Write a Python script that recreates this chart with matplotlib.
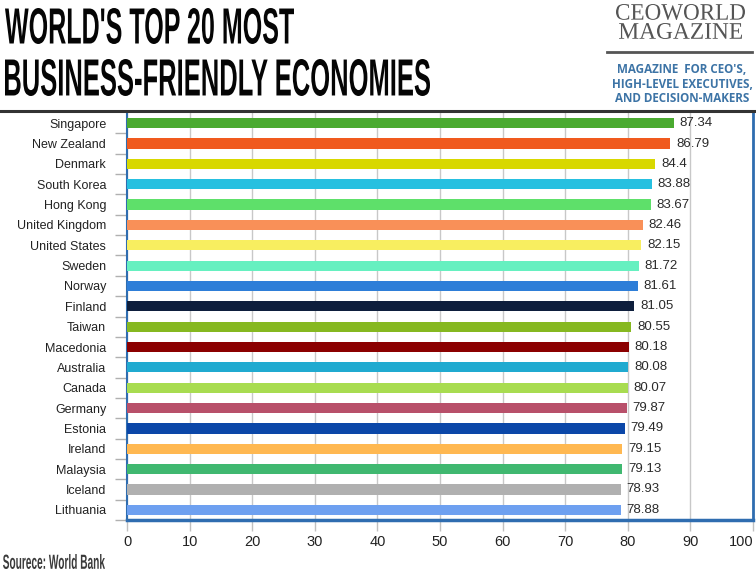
import numpy as np
import matplotlib
matplotlib.use('Agg')
import matplotlib.pyplot as plt
from matplotlib.textpath import TextPath
from matplotlib.patches import PathPatch
from matplotlib.font_manager import FontProperties
from matplotlib.transforms import Affine2D
from matplotlib.lines import Line2D

countries = ['Singapore', 'New Zealand', 'Denmark', 'South Korea', 'Hong Kong',
             'United Kingdom', 'United States', 'Sweden', 'Norway', 'Finland',
             'Taiwan', 'Macedonia', 'Australia', 'Canada', 'Germany',
             'Estonia', 'Ireland', 'Malaysia', 'Iceland', 'Lithuania']
scores = [87.34, 86.79, 84.4, 83.88, 83.67, 82.46, 82.15, 81.72, 81.61, 81.05,
          80.55, 80.18, 80.08, 80.07, 79.87, 79.49, 79.15, 79.13, 78.93, 78.88]
score_labels = ['87.34', '86.79', '84.4', '83.88', '83.67', '82.46', '82.15',
                '81.72', '81.61', '81.05', '80.55', '80.18', '80.08', '80.07',
                '79.87', '79.49', '79.15', '79.13', '78.93', '78.88']
bar_colors = ['#4aaa30', '#f05a1e', '#d8d800', '#26c0e0', '#5ee06a',
              '#f99058', '#f8ee60', '#66f0c0', '#2e7ed8', '#0e1e3c',
              '#86b820', '#8b0000', '#20aad0', '#a8dc50', '#b8506a',
              '#0b47a8', '#ffb851', '#40b870', '#b0b0b0', '#6ea0f0']
x_ticks = [0, 10, 20, 30, 40, 50, 60, 70, 80, 90, 100]

SANS = ['Liberation Sans', 'Arial', 'DejaVu Sans']
NARROW = ['Liberation Sans Narrow', 'Liberation Sans', 'DejaVu Sans']
SERIF = ['Liberation Serif', 'DejaVu Serif']

W, H = 756, 570
fig = plt.figure(figsize=(W / 100, H / 100), dpi=100)
ax = fig.add_axes([127 / W, 1 - 520 / H, 626 / W, 407 / H])

y = np.arange(len(countries))
ax.barh(y, scores, height=0.5, color=bar_colors, zorder=3)
for yi, v, lab in zip(y, scores, score_labels):
    ax.text(v + 0.9, yi, lab, va='center', ha='left', fontsize=9.5,
            color='#2a2a2a', family=SANS, zorder=4)

ax.set_xlim(0, 100)
ax.set_ylim(len(countries) - 0.5, -0.5)
ax.set_yticks(y)
ax.set_yticklabels(countries, fontsize=9, color='#222222', family=SANS)
ax.tick_params(axis='y', which='major', length=0, pad=15)
ax.set_yticks(np.arange(0.5, len(countries), 1), minor=True)
ax.tick_params(axis='y', which='minor', length=9, color='#b0b0b0', width=1)
ax.set_xticks(x_ticks)
xl = ax.set_xticklabels([str(t) for t in x_ticks], fontsize=10.5, color='#222222',
                        family=NARROW)
xl[-1].set_horizontalalignment('right')
ax.tick_params(axis='x', length=8, color='#c0c0c0', width=1, pad=3)
ax.grid(axis='x', color='#c8c8c8', linewidth=1, zorder=0)

for s in ['left', 'bottom', 'right']:
    ax.spines[s].set_color('#2f6db0')
ax.spines['left'].set_linewidth(1.5)
ax.spines['bottom'].set_linewidth(2.5)
ax.spines['right'].set_linewidth(2)
ax.spines['top'].set_visible(False)


def squeezed_text(s, x0, y_top, x1, y_bot, color, weight='bold', family=NARROW):
    # fit a text path into a pixel box (image coords, y down)
    fp = FontProperties(family=family, weight=weight)
    tp = TextPath((0, 0), s, size=50, prop=fp)
    ext = tp.get_extents()
    sx = (x1 - x0) / ext.width / W
    sy = (y_bot - y_top) / ext.height / H
    tr = Affine2D().translate(-ext.x0, -ext.y0).scale(sx, sy).translate(x0 / W, 1 - y_bot / H)
    fig.patches.append(PathPatch(tp, transform=tr + fig.transFigure, color=color, lw=0))


squeezed_text("WORLD'S TOP 20 MOST", 5, 8, 294, 44, '#050505')
squeezed_text("BUSINESS-FRIENDLY ECONOMIES", 5, 59, 430, 96, '#050505')
squeezed_text("Sourece: World Bank", 3, 554, 105, 569, '#3a3a3a')

# logo block, top right
squeezed_text("CEOWORLD", 616, 4, 745, 20, '#555555', weight='normal', family=SERIF)
squeezed_text("MAGAZINE", 619, 23, 742, 39, '#555555', weight='normal', family=SERIF)
fig.lines.append(Line2D([607 / W, 752 / W], [1 - 52 / H, 1 - 52 / H],
                        transform=fig.transFigure, color='#555555', lw=2))
for i, line in enumerate(["MAGAZINE  FOR CEO'S,", 'HIGH-LEVEL EXECUTIVES,', 'AND DECISION-MAKERS']):
    fig.text(682 / W, 1 - (70 + 14.5 * i) / H, line, ha='center', va='center',
             fontsize=8.4, weight='bold', family=['Open Sans', 'DejaVu Sans'],
             color='#3d74a6')

fig.lines.append(Line2D([0, 1], [1 - 111 / H, 1 - 111 / H],
                        transform=fig.transFigure, color='#333333', lw=2.2))

fig.savefig('out.png', dpi=100)
